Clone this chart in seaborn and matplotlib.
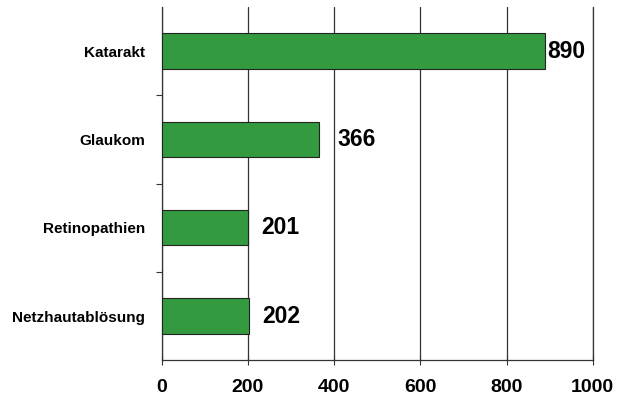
import numpy as np
import pandas as pd
import seaborn as sns
import matplotlib.pyplot as plt

# values
categories = ['Katarakt', 'Glaukom', 'Retinopathien', 'Netzhautablösung']
counts = [890, 366, 201, 202]
x_ticks = [0, 200, 400, 600, 800, 1000]

df = pd.DataFrame({'Diagnose': categories, 'Anzahl': counts})

sns.set_theme(style='white')
plt.rcParams['font.family'] = ['Liberation Sans', 'DejaVu Sans']
plt.rcParams['font.weight'] = 'bold'

fig = plt.figure(figsize=(6.22, 4.07), dpi=100)
ax = fig.add_axes([0.26, 0.115, 0.693, 0.868])

sns.barplot(data=df, x='Anzahl', y='Diagnose', orient='h', color='#339a3f',
            saturation=1, width=0.4, edgecolor='#222222', linewidth=0.8,
            zorder=3, ax=ax)

# value labels next to bars (spacing differs a bit in the original)
label_pad = [1.5, 13, 9.5, 9.5]
for bar, v, pad in zip(ax.patches, counts, label_pad):
    ax.annotate(str(v), (bar.get_width(), bar.get_y() + bar.get_height() / 2),
                xytext=(pad, 0), textcoords='offset points', va='center',
                ha='left', fontsize=16.5, fontweight='bold', color='black')

ax.set_xlim(0, 1000)
ax.set_ylim(3.5, -0.5)
ax.set_xticks(x_ticks)
ax.set_xticklabels([str(t) for t in x_ticks], fontsize=14, fontweight='bold',
                   color='black')
ax.set_xlabel('')
ax.set_ylabel('')

# category labels without ticks, tick marks at the boundaries
ax.set_yticks(range(len(categories)))
ax.set_yticklabels(categories, fontsize=11, fontweight='bold', color='black')
ax.tick_params(axis='y', length=0, pad=12)
ax.set_yticks(np.arange(0.5, len(categories) - 0.5, 1), minor=True)
ax.tick_params(axis='y', which='minor', length=4, width=0.8, color='#333333', left=True)
ax.tick_params(axis='x', length=7, width=0.8, color='#333333', bottom=True,
               direction='inout', pad=10)

ax.grid(axis='x', color='#333333', linewidth=0.9, zorder=0)
ax.grid(axis='y', visible=False)
for s in ['left', 'bottom', 'right']:
    ax.spines[s].set_color('#333333')
    ax.spines[s].set_linewidth(0.9)
ax.spines['top'].set_visible(False)

fig.savefig('out.png', dpi=100)
